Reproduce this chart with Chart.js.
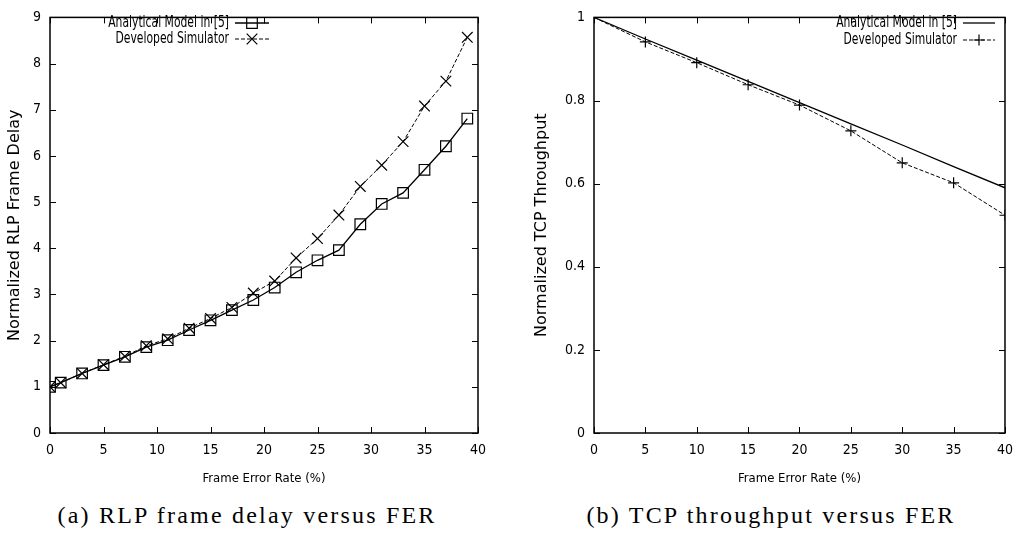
<!DOCTYPE html>
<html>
<head>
<meta charset="utf-8">
<script src="https://cdn.jsdelivr.net/npm/chart.js@4.4.0/dist/chart.umd.min.js"></script>
<style>
body { margin: 0; background: #fff; width: 1022px; height: 534px; position: relative; overflow: hidden; }
canvas { position: absolute; top: 0; }
#delaychart { left: 0; }
#tputchart { left: 520px; }
.caption { position: absolute; top: 502px; font-family: "Liberation Serif", serif; font-size: 24px; letter-spacing: 2.2px; line-height: 27px; white-space: nowrap; transform: translateX(-50%); color: #000; }
</style>
</head>
<body>
<canvas id="delaychart" width="505" height="495"></canvas>
<canvas id="tputchart" width="502" height="495"></canvas>
<div class="caption" style="left:247px">(a) RLP frame delay versus FER</div>
<div class="caption" style="left:771px">(b) TCP throughput versus FER</div>
<script>
// (a) RLP frame delay
var ferA = [0, 1, 3, 5, 7, 9, 11, 13, 15, 17, 19, 21, 23, 25, 27, 29, 31, 33, 35, 37, 39];
var delayModel = [1.00, 1.09, 1.29, 1.47, 1.65, 1.86, 2.01, 2.23, 2.44, 2.66, 2.88, 3.15, 3.48, 3.74, 3.96, 4.52, 4.96, 5.20, 5.70, 6.21, 6.81];
var delaySim = [1.00, 1.09, 1.29, 1.48, 1.66, 1.89, 2.04, 2.27, 2.48, 2.72, 3.03, 3.29, 3.79, 4.21, 4.72, 5.34, 5.80, 6.31, 7.08, 7.62, 8.57];

// (b) TCP throughput
var ferB = [0, 5, 10, 15, 20, 25, 30, 35, 40];
var tputModel = [1.000, 0.948, 0.897, 0.846, 0.795, 0.744, 0.693, 0.641, 0.590];
var tputSim = [1.000, 0.941, 0.891, 0.838, 0.789, 0.727, 0.650, 0.602, 0.524];

var seriesLabels = ["Analytical Model in [5]", "Developed Simulator"];
var xTitle = "Frame Error Rate (%)";

var narrow = "'DejaVu Sans Condensed', 'Liberation Sans Narrow', 'Liberation Sans', sans-serif";

function pairs(xs, ys) {
	return xs.map(function(x, i) { return {x: x, y: ys[i]}; });
}

// gnuplot style box with inward ticks on all four sides
var frame = {
	id: 'frame',
	afterDatasetsDraw: function(chart) {
		var ctx = chart.ctx, a = chart.chartArea;
		var xs = chart.scales.x, ys = chart.scales.y;
		ctx.save();
		ctx.strokeStyle = '#000';
		ctx.lineWidth = 1;
		ctx.beginPath();
		xs.ticks.forEach(function(t) {
			var p = Math.round(xs.getPixelForValue(t.value)) + 0.5;
			ctx.moveTo(p, a.bottom); ctx.lineTo(p, a.bottom - 6);
			ctx.moveTo(p, a.top); ctx.lineTo(p, a.top + 6);
		});
		ys.ticks.forEach(function(t) {
			var p = Math.round(ys.getPixelForValue(t.value)) + 0.5;
			ctx.moveTo(a.left, p); ctx.lineTo(a.left + 6, p);
			ctx.moveTo(a.right, p); ctx.lineTo(a.right - 6, p);
		});
		ctx.stroke();
		ctx.lineWidth = 1.5;
		ctx.strokeRect(a.left, a.top, a.right - a.left, a.bottom - a.top);
		ctx.restore();
	}
};

// key drawn the gnuplot way: text, then line sample with marker
var keyBox = {
	id: 'keyBox',
	afterDraw: function(chart, args, opts) {
		var ctx = chart.ctx;
		ctx.save();
		ctx.font = opts.font;
		ctx.textBaseline = 'middle';
		chart.data.datasets.forEach(function(ds, i) {
			var y = opts.top + i * opts.rowGap;
			var x0 = opts.right + 6, x1 = x0 + opts.sample;
			ctx.save();
			ctx.fillStyle = '#000';
			ctx.textAlign = 'right';
			ctx.translate(opts.right, y);
			ctx.scale(opts.squeeze, 1);
			ctx.fillText(ds.label, 0, 0);
			ctx.restore();
			ctx.strokeStyle = '#000';
			ctx.lineWidth = ds.borderWidth;
			ctx.setLineDash(ds.borderDash || []);
			ctx.beginPath();
			ctx.moveTo(x0, y);
			ctx.lineTo(x1, y);
			ctx.stroke();
			ctx.setLineDash([]);
			if (ds.pointRadius > 0) {
				ctx.fillStyle = 'rgba(0,0,0,0)';
				ctx.lineWidth = ds.pointBorderWidth;
				Chart.helpers.drawPoint(ctx, {pointStyle: ds.pointStyle, radius: ds.pointRadius, borderWidth: ds.pointBorderWidth, rotation: 0}, (x0 + x1) / 2, y);
			}
		});
		ctx.restore();
	}
};

function axes(yMax, yStep, yWidth, yTitle, yTitlePad) {
	return {
		x: {
			type: 'linear', min: 0, max: 40,
			grid: {display: false, drawTicks: false},
			border: {display: false},
			ticks: {stepSize: 5, color: '#000', padding: 9, maxRotation: 0, font: {family: narrow, size: 14}},
			title: {display: true, text: xTitle, color: '#000', padding: {top: 0, bottom: 9}, font: {family: narrow, size: 13}},
			afterFit: function(scale) { scale.height = 62; }
		},
		y: {
			min: 0, max: yMax,
			grid: {display: false, drawTicks: false},
			border: {display: false},
			ticks: {
				stepSize: yStep, color: '#000', padding: 9, font: {family: narrow, size: 14},
				callback: function(v) { return String(Math.round(v * 10) / 10); }
			},
			title: {display: true, text: yTitle, color: '#000', padding: {top: yTitlePad, bottom: 0}, font: {family: "'DejaVu Sans', sans-serif", size: 16}},
			afterFit: function(scale) { scale.width = yWidth; }
		}
	};
}

var delaychart = {
	type: 'line',
	data: {
		datasets: [
			{
				label: seriesLabels[0],
				data: pairs(ferA, delayModel),
				borderColor: '#000',
				borderWidth: 1.3,
				pointStyle: 'rect',
				pointRadius: 7.5,
				pointBorderWidth: 1.2,
				pointBorderColor: '#000',
				pointBackgroundColor: 'rgba(0,0,0,0)'
			},
			{
				label: seriesLabels[1],
				data: pairs(ferA, delaySim),
				borderColor: '#000',
				borderWidth: 1,
				borderDash: [4, 2],
				pointStyle: 'crossRot',
				pointRadius: 7.5,
				pointBorderWidth: 1.2,
				pointBorderColor: '#000',
				pointBackgroundColor: 'rgba(0,0,0,0)'
			}
		]
	},
	options: {
		responsive: false,
		animation: false,
		layout: {padding: {left: 0, top: 10, right: 27, bottom: 0}},
		scales: axes(9, 1, 50, "Normalized RLP Frame Delay", 5),
		plugins: {
			legend: {display: false},
			tooltip: {enabled: false},
			keyBox: {right: 229, top: 23, rowGap: 16, sample: 34, squeeze: 0.8, font: "15px " + narrow}
		}
	},
	plugins: [frame, keyBox]
};

var tputchart = {
	type: 'line',
	data: {
		datasets: [
			{
				label: seriesLabels[0],
				data: pairs(ferB, tputModel),
				borderColor: '#000',
				borderWidth: 1.3,
				pointRadius: 0
			},
			{
				label: seriesLabels[1],
				data: pairs(ferB, tputSim),
				borderColor: '#000',
				borderWidth: 1,
				borderDash: [4, 2],
				pointStyle: 'cross',
				pointRadius: 5.5,
				pointBorderWidth: 1.2,
				pointBorderColor: '#000',
				pointBackgroundColor: 'rgba(0,0,0,0)'
			}
		]
	},
	options: {
		responsive: false,
		animation: false,
		layout: {padding: {left: 0, top: 10, right: 15, bottom: 0}},
		scales: axes(1, 0.2, 74, "Normalized TCP Throughput", 12),
		plugins: {
			legend: {display: false},
			tooltip: {enabled: false},
			keyBox: {right: 437, top: 23, rowGap: 17, sample: 32, squeeze: 0.8, font: "15px " + narrow}
		}
	},
	plugins: [frame, keyBox]
};

window.onload = function() {
	new Chart(document.getElementById("delaychart").getContext("2d"), delaychart);
	new Chart(document.getElementById("tputchart").getContext("2d"), tputchart);
};
</script>
</body>
</html>
